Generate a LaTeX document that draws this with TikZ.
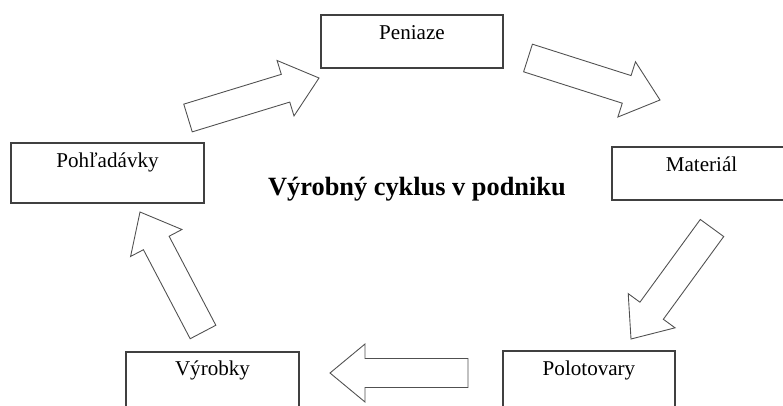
\documentclass[tikz,border=0pt]{standalone}
\usepackage{fontspec}
\setmainfont{Liberation Serif}
\usepackage{tikz}
\usetikzlibrary{calc,fit,positioning}

\definecolor{boxline}{HTML}{404040}
\definecolor{arrowline}{HTML}{505050}

\tikzset{
	stage/.style={draw=boxline, line width=0.7pt, rectangle, inner sep=0pt},
	stagename/.style={inner sep=0pt, font=\fontsize{12}{14}\selectfont},
	bigarrow/.style={draw=arrowline, line width=0.5pt, fill=white, line join=miter},
}

% hollow block arrow from tail (#1) to tip (#2)
\newcommand{\blockarrow}[2]{%
	\coordinate (ah) at ($(#2)!0.7cm!(#1)$);
	\draw[bigarrow] ($(#1)!0.29cm!90:(#2)$) -- ($(ah)!0.29cm!90:(#2)$) -- ($(ah)!0.58cm!90:(#2)$) -- (#2)
		-- ($(ah)!0.58cm!-90:(#2)$) -- ($(ah)!0.29cm!-90:(#2)$) -- ($(#1)!0.29cm!-90:(#2)$) -- cycle;}

\begin{document}
\begin{tikzpicture}[x=0.02cm, y=-0.02cm]
		\clip (0,0) rectangle (783,405);
		\fill[white] (0,0) rectangle (783,405);

		% boxes
		\node[stage, fit={(321,15) (503,68)}] (peniaze) {};
		\node[stage, fit={(612,147) (791,200)}] (material) {};
		\node[stage, fit={(503,351) (675,411)}] (polotovary) {};
		\node[stage, fit={(126,352) (299,412)}] (vyrobky) {};
		\node[stage, fit={(11,143) (204,203)}] (pohladavky) {};

		\node[stagename, below=0.22cm of peniaze.north] (peniazet) {Peniaze};
		\node[stagename, below=0.2cm of material.north] (materialt) {Materiál};
		\node[stagename, below=0.2cm of polotovary.north] (polotovaryt) {Polotovary};
		\node[stagename, below=0.19cm of vyrobky.north] (vyrobkyt) {Výrobky};
		\node[stagename, below=0.2cm of pohladavky.north] (pohladavkyt) {Pohľadávky};

		\node[anchor=base, inner sep=0pt, font=\bfseries\fontsize{15}{18}\selectfont] (cyklus) at (417,195) {Výrobný cyklus v podniku};

		% arrows
		\coordinate (a1s) at (188,118); \coordinate (a1e) at (319,78);
		\coordinate (a2s) at (528,58);  \coordinate (a2e) at (660,100);
		\coordinate (a3s) at (712,228); \coordinate (a3e) at (631,339);
		\coordinate (a4s) at (468,373); \coordinate (a4e) at (330,373);
		\coordinate (a5s) at (203,332); \coordinate (a5e) at (140,212);
		\blockarrow{a1s}{a1e}
		\blockarrow{a2s}{a2e}
		\blockarrow{a3s}{a3e}
		\blockarrow{a4s}{a4e}
		\blockarrow{a5s}{a5e}
	\end{tikzpicture}
\end{document}
